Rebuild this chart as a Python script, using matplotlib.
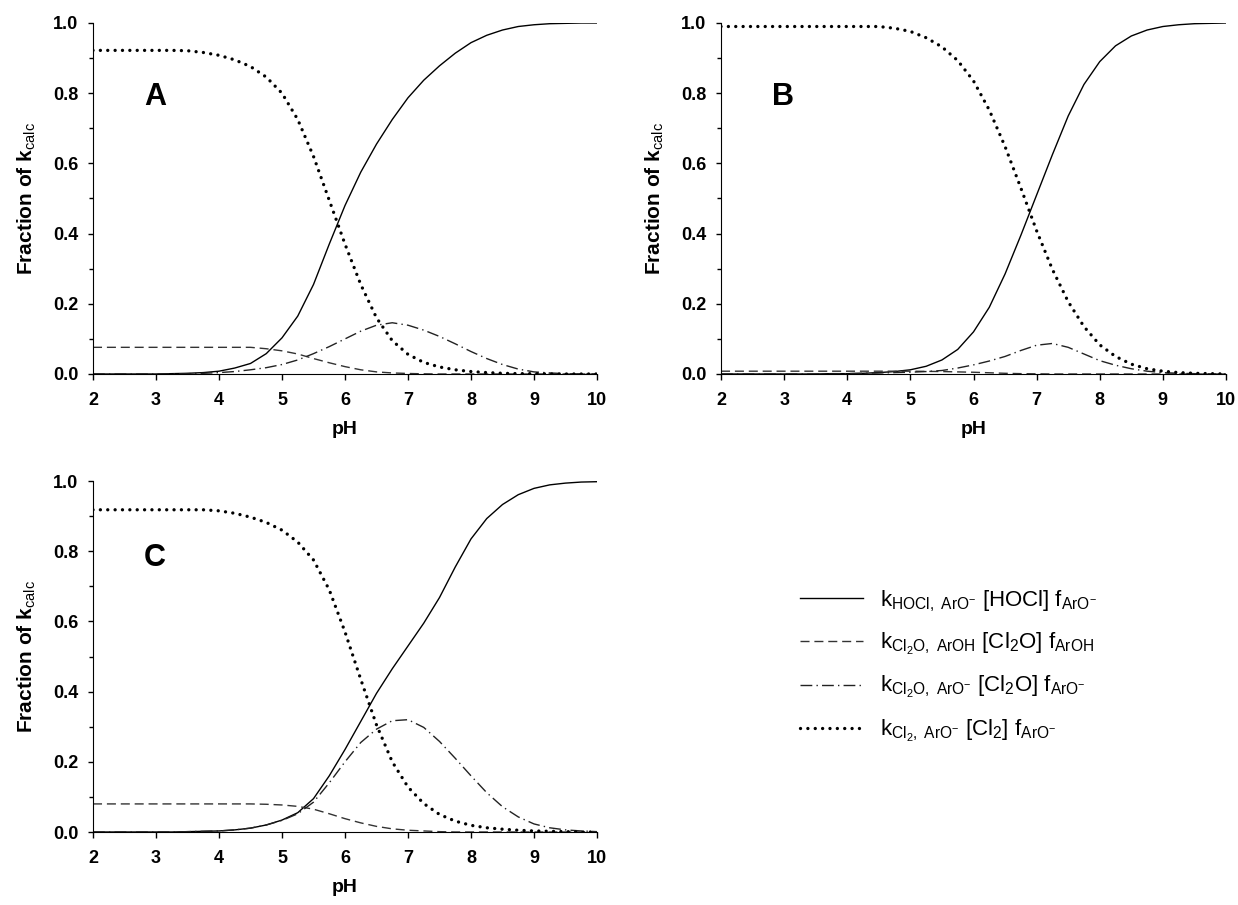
import numpy as np
import matplotlib
matplotlib.use("Agg")
from matplotlib import pyplot as plt
from matplotlib.ticker import MultipleLocator, FormatStrFormatter

plt.rcParams['font.family'] = ['Liberation Sans', 'DejaVu Sans']
plt.rcParams['mathtext.fontset'] = 'custom'
plt.rcParams['mathtext.rm'] = 'Liberation Sans'
plt.rcParams['mathtext.it'] = 'Liberation Sans:italic'
plt.rcParams['mathtext.bf'] = 'Liberation Sans:bold'

# pH grid, 0.25 steps from 2 to 10
ph = [2.0, 2.25, 2.5, 2.75, 3.0, 3.25, 3.5, 3.75, 4.0, 4.25, 4.5, 4.75,
      5.0, 5.25, 5.5, 5.75, 6.0, 6.25, 6.5, 6.75, 7.0, 7.25, 7.5, 7.75,
      8.0, 8.25, 8.5, 8.75, 9.0, 9.25, 9.5, 9.75, 10.0]

# panel A
a_hocl = [0, 0, 0, 0, 0, 0.001, 0.002, 0.004, 0.008, 0.017, 0.030, 0.058,
          0.103, 0.165, 0.255, 0.370, 0.480, 0.575, 0.655, 0.725, 0.787, 0.837,
          0.878, 0.914, 0.944, 0.965, 0.980, 0.990, 0.995, 0.998, 0.999, 1.0, 1.0]
a_cl2o_aroh = [0.076] * 11 + [0.072, 0.066, 0.057, 0.044, 0.032, 0.021, 0.012,
                              0.006, 0.003, 0.0015, 0.0005] + [0] * 11
a_cl2o_aro = [0, 0, 0, 0, 0, 0, 0.001, 0.002, 0.004, 0.007, 0.012, 0.018,
              0.027, 0.040, 0.058, 0.078, 0.100, 0.122, 0.139, 0.146, 0.139,
              0.125, 0.107, 0.086, 0.064, 0.044, 0.027, 0.014, 0.006, 0.003,
              0.001, 0, 0]
a_cl2 = [0.922] * 6 + [0.921, 0.916, 0.908, 0.895, 0.876, 0.846, 0.800, 0.725,
                       0.620, 0.495, 0.370, 0.255, 0.160, 0.095, 0.056, 0.033,
                       0.020, 0.012, 0.007, 0.004, 0.002, 0.001, 0.001] + [0] * 4

# panel B
b_hocl = [0, 0, 0, 0, 0, 0, 0, 0.001, 0.001, 0.002, 0.004, 0.007, 0.012,
          0.022, 0.040, 0.070, 0.120, 0.190, 0.285, 0.395, 0.510, 0.625, 0.735,
          0.825, 0.890, 0.935, 0.963, 0.980, 0.990, 0.995, 0.998, 0.999, 1.0]
b_cl2o_aroh = [0.008] * 13 + [0.0075, 0.007, 0.006, 0.005, 0.0035, 0.002,
                              0.001, 0.0005] + [0] * 12
b_cl2o_aro = [0, 0, 0, 0, 0, 0, 0, 0, 0.001, 0.002, 0.003, 0.004, 0.005,
              0.007, 0.010, 0.017, 0.026, 0.037, 0.050, 0.067, 0.082, 0.087,
              0.076, 0.057, 0.038, 0.025, 0.015, 0.008, 0.004, 0.002, 0.001, 0, 0]
b_cl2 = [0.99] * 11 + [0.985, 0.976, 0.958, 0.932, 0.893, 0.835, 0.752, 0.648,
                       0.530, 0.408, 0.298, 0.206, 0.135, 0.083, 0.050, 0.028,
                       0.015, 0.008, 0.004, 0.002, 0.001, 0]

# panel C
c_hocl = [0, 0, 0, 0, 0, 0, 0.001, 0.002, 0.003, 0.006, 0.011, 0.020, 0.034,
          0.055, 0.095, 0.160, 0.235, 0.315, 0.395, 0.465, 0.530, 0.595, 0.668,
          0.755, 0.835, 0.893, 0.933, 0.961, 0.979, 0.989, 0.994, 0.997, 0.998]
c_cl2o_aroh = [0.080] * 11 + [0.079, 0.077, 0.073, 0.065, 0.052, 0.038, 0.026,
                              0.016, 0.009, 0.005, 0.003, 0.001] + [0] * 10
c_cl2o_aro = [0, 0, 0, 0, 0, 0, 0.001, 0.002, 0.003, 0.006, 0.011, 0.020,
              0.033, 0.052, 0.085, 0.140, 0.200, 0.255, 0.293, 0.317, 0.320,
              0.298, 0.258, 0.210, 0.160, 0.112, 0.072, 0.043, 0.023, 0.012,
              0.006, 0.003, 0.001]
c_cl2 = [0.918] * 8 + [0.915, 0.908, 0.897, 0.882, 0.860, 0.826, 0.775, 0.690,
                       0.570, 0.435, 0.305, 0.200, 0.128, 0.081, 0.050, 0.031,
                       0.019, 0.012, 0.008, 0.005, 0.003, 0.002, 0.001, 0, 0]

labels = [r'$\mathrm{k_{HOCl,\ ArO^{-}}\ [HOCl]\ f_{ArO^{-}}}$',
          r'$\mathrm{k_{Cl_{2}O,\ ArOH}\ [Cl_{2}O]\ f_{ArOH}}$',
          r'$\mathrm{k_{Cl_{2}O,\ ArO^{-}}\ [Cl_{2}O]\ f_{ArO^{-}}}$',
          r'$\mathrm{k_{Cl_{2},\ ArO^{-}}\ [Cl_{2}]\ f_{ArO^{-}}}$']

styles = [dict(color='black', lw=1.0, ls='-'),
          dict(color='#333333', lw=1.0, ls=(0, (6.5, 3.5))),
          dict(color='#222222', lw=1.0, ls=(0, (8.5, 3, 1, 3))),
          dict(color='black', lw=2.4, ls=(0, (0.01, 2.2)), dash_capstyle='round')]

W, H = 1238, 905


def draw_panel(ax, series, letter, letter_y):
    lines = []
    for ys, st in zip(series, styles):
        ln, = ax.plot(ph, ys, **st)
        lines.append(ln)
    ax.set_xlim(2, 10)
    ax.set_ylim(0, 1.0)
    ax.spines['top'].set_visible(False)
    ax.spines['right'].set_visible(False)
    ax.xaxis.set_major_locator(MultipleLocator(1))
    ax.yaxis.set_major_locator(MultipleLocator(0.2))
    ax.yaxis.set_minor_locator(MultipleLocator(0.1))
    ax.yaxis.set_major_formatter(FormatStrFormatter('%.1f'))
    ax.tick_params(axis='x', direction='out', length=4.5, width=1, labelsize=13, pad=8.5)
    ax.tick_params(axis='y', direction='out', length=3.6, width=1, labelsize=13, pad=7)
    ax.tick_params(axis='y', which='minor', direction='out', length=2.6, width=1)
    for t in ax.get_xticklabels() + ax.get_yticklabels():
        t.set_fontweight('bold')
    ax.set_xlabel('pH', fontsize=14, fontweight='bold')
    ax.xaxis.set_label_coords(0.5, -47 / 351)
    ax.set_ylabel(r'$\mathbf{Fraction\ of\ k}_{\mathrm{calc}}$', fontsize=15)
    ax.yaxis.set_label_coords(-55 / 504, 0.5)
    ax.text(2.98, letter_y, letter, fontsize=22, fontweight='bold', ha='center', va='center')
    return lines


fig = plt.figure(figsize=(W / 100, H / 100), dpi=100)
axA = fig.add_axes([93 / W, 1 - 374 / H, 504 / W, 351 / H])
axB = fig.add_axes([721 / W, 1 - 374 / H, 505 / W, 351 / H])
axC = fig.add_axes([93 / W, 1 - 832 / H, 504 / W, 351 / H])

draw_panel(axA, [a_hocl, a_cl2o_aroh, a_cl2o_aro, a_cl2], 'A', 0.79)
draw_panel(axB, [b_hocl, b_cl2o_aroh, b_cl2o_aro, b_cl2], 'B', 0.79)
handles = draw_panel(axC, [c_hocl, c_cl2o_aroh, c_cl2o_aro, c_cl2], 'C', 0.78)

fig.legend(handles, labels, loc='upper left', bbox_to_anchor=(800 / W, 1 - 588 / H),
           frameon=False, fontsize=16, handlelength=2.84, handletextpad=0.77,
           labelspacing=0.78, borderpad=0, borderaxespad=0)

fig.savefig('out.png', dpi=100)
